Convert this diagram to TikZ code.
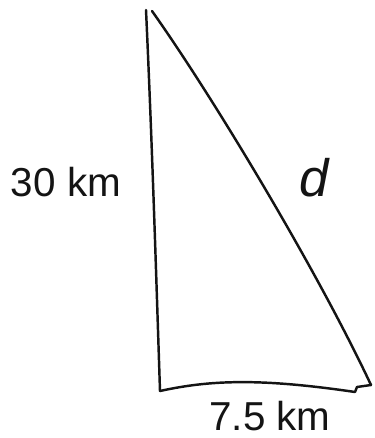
\documentclass[tikz,border=0pt]{standalone}
\usepackage{fontspec}
\setsansfont{Liberation Sans}
\definecolor{penblack}{RGB}{20,20,20}
\usepackage{tikz}
\usetikzlibrary{positioning,calc}
\tikzset{
  side/.style={draw=penblack,line width=1.4pt,line cap=round,line join=round},
  lab/.style={text=penblack,font=\sffamily\fontsize{23}{27}\selectfont,inner sep=0pt},
}
\begin{document}
\begin{tikzpicture}[x=0.02cm,y=-0.02cm]
    \useasboundingbox (0,0) rectangle (374,438);
    % corners of the triangle
    \coordinate (top)   at (146,10);
    \coordinate (tip)   at (152,11);
    \coordinate (left)  at (160,391);
    \coordinate (right) at (371,385);
    \coordinate (hook)  at (355,392);
    \draw[side] (top) .. controls (152,140) and (156,270) .. (left);
    \draw[side] (tip) .. controls (215,100) and (318,272) .. (right);
    \draw[side] (left) .. controls (210,380) and (260,378) .. (hook)
          -- ++(2,-5) -- (right);
    % labels
    \node[lab] (vert) at (66,182) {30 km};
    \node[lab,font=\sffamily\itshape\fontsize{30}{34}\selectfont] (hyp) at (314,178) {d};
    \node[lab] (base) at (270,416) {7.5 km};
\end{tikzpicture}
\end{document}
